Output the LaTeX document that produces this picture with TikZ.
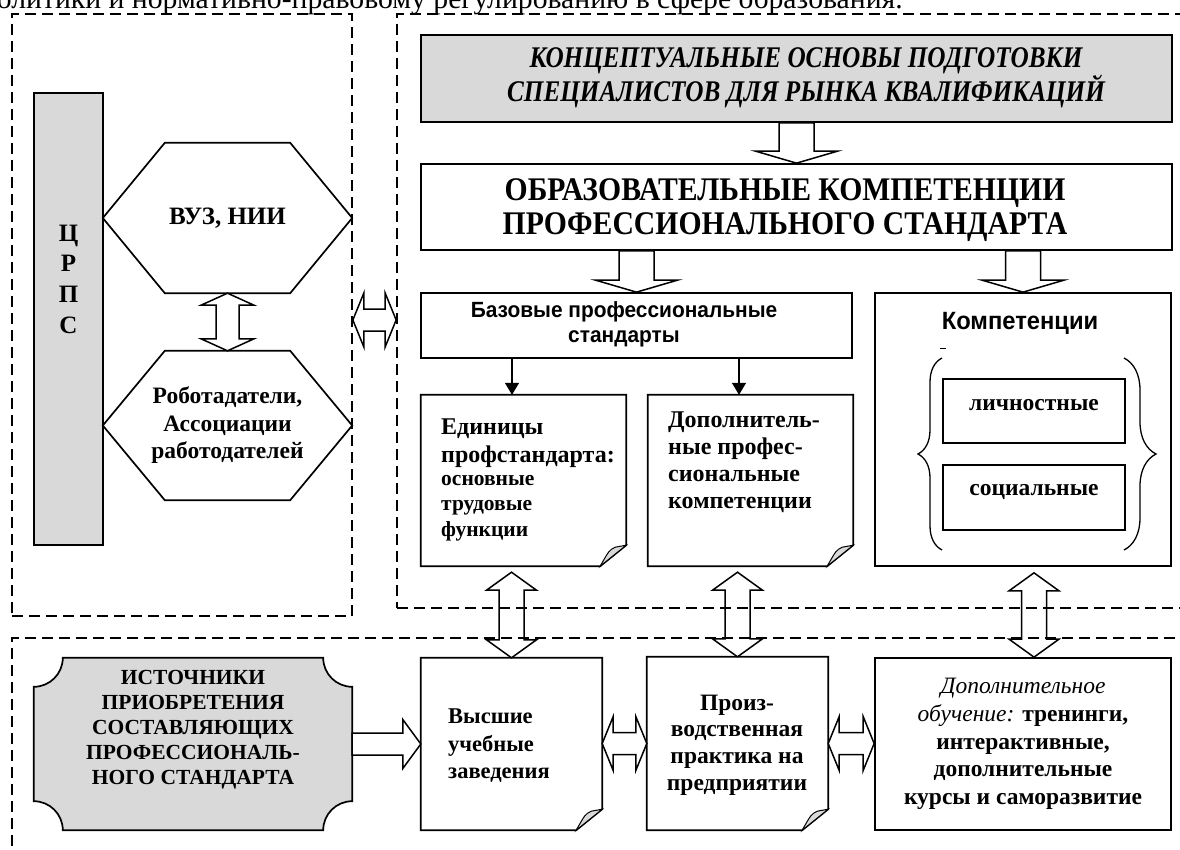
\documentclass[tikz,border=0pt]{standalone}
\usepackage{fontspec}
\setmainfont{Liberation Serif}
\newfontfamily\narrowsans[FakeStretch=0.95]{Liberation Sans}
\newfontfamily\condserif[FakeStretch=0.84]{Liberation Serif}
\newfontfamily\narrowserif[FakeStretch=0.9]{Liberation Serif}
\usetikzlibrary{positioning,calc,arrows.meta,decorations.pathreplacing}

\definecolor{panelgray}{RGB}{217,217,217}
\pgfdeclarelayer{front}
\pgfsetlayers{main,front}

\tikzset{
  panel/.style={draw, line width=1.7pt, dash pattern=on 11pt off 6pt, inner sep=0pt},
  plainbox/.style={draw, line width=1.7pt, inner sep=0pt, align=center},
  graybox/.style={plainbox, fill=panelgray},
  blank/.style={inner sep=0pt, align=center},
  docline/.style={line width=1.7pt, line join=miter},
  fatshaft/.initial=10, fathead/.initial=20, fattip/.initial=10,
  fat/.style={draw, fill=white, line width=1.5pt, line join=miter},
  fatdown/.style={fatshaft=17.5, fathead=41, fattip=12},
  fatright/.style={fatshaft=11, fathead=24.5, fattip=18},
  fatvert/.style={fatshaft=11.5, fathead=26.5, fattip=12},
  fatside/.style={fatshaft=11, fathead=27, fattip=11},
  fatcross/.style={fatshaft=12.5, fathead=25, fattip=18},
  thinarr/.style={line width=1.6pt, -{Triangle[length=12pt,width=14pt]}},
  curly/.style={decorate, decoration={brace, amplitude=#1}, line width=1.3pt},
}

% hollow block arrows laid between two points
\newcommand\fatprep[3]{%
  \path #2; \pgfgetlastxy{\fatAx}{\fatAy}%
  \path #3; \pgfgetlastxy{\fatBx}{\fatBy}%
  \tikzset{#1}%
  \pgfmathsetmacro\fatL{veclen(\fatBx-\fatAx,\fatBy-\fatAy)}%
  \pgfmathsetmacro\fatR{atan2(\fatBy-\fatAy,\fatBx-\fatAx)}%
  \pgfmathsetmacro\fatS{\pgfkeysvalueof{/tikz/fatshaft}}%
  \pgfmathsetmacro\fatH{\pgfkeysvalueof{/tikz/fathead}}%
  \pgfmathsetmacro\fatT{\pgfkeysvalueof{/tikz/fattip}}%
  \pgfmathsetmacro\fatM{\fatL-\fatT}}
\newcommand\fatlink[3]{\fatprep{#1}{#2}{#3}%
  \draw[fat, shift={(\fatAx,\fatAy)}, rotate=\fatR] (0pt,\fatS pt) -- (\fatM pt,\fatS pt) -- (\fatM pt,\fatH pt)
    -- (\fatL pt,0pt) -- (\fatM pt,-\fatH pt) -- (\fatM pt,-\fatS pt) -- (0pt,-\fatS pt) -- cycle;}
\newcommand\fatboth[3]{\fatprep{#1}{#2}{#3}%
  \draw[fat, shift={(\fatAx,\fatAy)}, rotate=\fatR] (0pt,0pt) -- (\fatT pt,\fatH pt) -- (\fatT pt,\fatS pt)
    -- (\fatM pt,\fatS pt) -- (\fatM pt,\fatH pt) -- (\fatL pt,0pt) -- (\fatM pt,-\fatH pt) -- (\fatM pt,-\fatS pt)
    -- (\fatT pt,-\fatS pt) -- (\fatT pt,-\fatH pt) -- cycle;}

% hexagon round a node
\newcommand\hexframe[1]{%
  \draw[docline] (#1.west) -- ([xshift=62pt]#1.north west) -- ([xshift=-62pt]#1.north east)
    -- (#1.east) -- ([xshift=-62pt]#1.south east) -- ([xshift=62pt]#1.south west) -- cycle;}

% sheet with a curled corner
\newcommand\docframe[1]{%
  \draw[docline] (#1.north west) -- (#1.north east) -- ([yshift=21pt]#1.south east)
    -- ([xshift=-26pt]#1.south east) -- (#1.south west) -- cycle;
  \draw[line width=1pt, fill=panelgray] ([xshift=-26pt]#1.south east)
    .. controls ([xshift=-17pt,yshift=16pt]#1.south east) .. ([xshift=-11pt,yshift=19pt]#1.south east)
    -- ([yshift=21pt]#1.south east) -- cycle;}

% plaque with hollow corners
\newcommand\plaqueframe[1]{%
  \draw[docline, fill=panelgray]
    ([yshift=-29pt]#1.north west) .. controls ([xshift=16pt,yshift=-29pt]#1.north west) and ([xshift=29pt,yshift=-16pt]#1.north west) .. ([xshift=29pt]#1.north west)
    -- ([xshift=-29pt]#1.north east) .. controls ([xshift=-29pt,yshift=-16pt]#1.north east) and ([xshift=-16pt,yshift=-29pt]#1.north east) .. ([yshift=-29pt]#1.north east)
    -- ([yshift=29pt]#1.south east) .. controls ([xshift=-16pt,yshift=29pt]#1.south east) and ([xshift=-29pt,yshift=16pt]#1.south east) .. ([xshift=-29pt]#1.south east)
    -- ([xshift=29pt]#1.south west) .. controls ([xshift=29pt,yshift=16pt]#1.south west) and ([xshift=16pt,yshift=29pt]#1.south west) .. ([yshift=29pt]#1.south west)
    -- cycle;}

\begin{document}
\begin{tikzpicture}[x=1pt, y=-1pt]
  \useasboundingbox (0,0) rectangle (1180,850);

  % dashed panels
  \begin{pgfonlayer}{front}
    \node[panel, minimum width=340, minimum height=602] (leftp) at (182,315) {};
    \node[panel, minimum width=803, minimum height=594] (rightp) at (798.5,311) {};
    \node[panel, minimum width=1188, minimum height=232] (botp) at (606,754) {};
  \end{pgfonlayer}

  \node[anchor=base east, inner sep=0pt, font=\fontsize{29.7}{30}\selectfont] (caption) at (903,9)
    {олитики и нормативно-правовому регулированию в сфере образования.};

  % left panel
  \node[graybox, minimum width=69, minimum height=452] (crps) at (68.5,319) {};
  \node[blank, font=\bfseries\fontsize{25}{30.7}\selectfont] (crpstext) at (68.5,279) {Ц\\Р\\П\\С};

  \node[blank, minimum width=249, minimum height=150, font=\bfseries\fontsize{25}{27.5}\selectfont] (vuz) at (227.5,218) {ВУЗ, НИИ};
  \node[blank, minimum width=249, minimum height=149, font=\bfseries\fontsize{23.5}{27.5}\selectfont] (emp) at (227.5,425.5)
    {Роботадатели,\\Ассоциации\\работодателей};
  \hexframe{vuz}
  \hexframe{emp}
  \fatboth{fatvert}{(vuz.south)}{(emp.north)}

  \coordinate (mid) at (375,320);
  \fatboth{fatside}{(leftp.east |- mid)}{(rightp.west |- mid)}

  % upper right panel
  \node[graybox, minimum width=751, minimum height=87] (conc) at (796.5,78.5) {};
  \node[blank, font=\condserif\bfseries\itshape\fontsize{30}{30}\selectfont] (conctext) at (806,77.5)
    {КОНЦЕПТУАЛЬНЫЕ ОСНОВЫ ПОДГОТОВКИ\\СПЕЦИАЛИСТОВ ДЛЯ РЫНКА КВАЛИФИКАЦИЙ};
  \node[plainbox, minimum width=751, minimum height=86] (obr) at (796.5,207) {};
  \node[blank, font=\narrowserif\bfseries\fontsize{33}{34}\selectfont] (obrtext) at (785,210)
    {ОБРАЗОВАТЕЛЬНЫЕ КОМПЕТЕНЦИИ\\ПРОФЕССИОНАЛЬНОГО СТАНДАРТА};
  \node[plainbox, minimum width=431, minimum height=65] (base) at (636.5,325.5) {};
  \node[blank, font=\narrowsans\bfseries\fontsize{22}{25}\selectfont] (basetext) at (624,324.5)
    {Базовые профессиональные\\стандарты};
  \node[plainbox, minimum width=296, minimum height=273] (komp) at (1023,429.5) {};
  \node[blank, font=\narrowsans\bfseries\fontsize{25}{25}\selectfont] (komptitle) at (1020,323) {Компетенции};
  \draw[line width=1pt] (940,348) -- (946,348);

  \node[plainbox, minimum width=182, minimum height=64] (lich) at (1034,411) {};
  \node[blank, font=\bfseries\fontsize{23.5}{23}\selectfont] (lichtext) at (1034,405) {личностные};
  \node[plainbox, minimum width=182, minimum height=65] (soc) at (1034,497.5) {};
  \node[blank, font=\bfseries\fontsize{23.5}{23}\selectfont] (soctext) at (1034,492) {социальные};
  \draw[curly=24pt] (942,550) -- (942,358);
  \draw[curly=32pt] (1124,358) -- (1124,550);

  \node[blank, minimum width=205, minimum height=171] (edin) at (523.5,480.5) {};
  \docframe{edin}
  \node[anchor=north west, align=left, inner sep=0pt, font=\bfseries\fontsize{21.5}{25.5}\selectfont] (edintext) at (441,419)
    {{\fontsize{24}{28}\selectfont Единицы}\\[2pt]{\fontsize{24}{28}\selectfont профстандарта:}\\[-2.5pt]основные\\трудовые\\функции};
  \node[blank, minimum width=205, minimum height=171] (dopk) at (750.5,480.5) {};
  \docframe{dopk}
  \node[anchor=north west, align=left, inner sep=0pt, font=\bfseries\fontsize{24}{26.7}\selectfont] (dopktext) at (668,412)
    {Дополнитель-\\ные профес-\\сиональные\\компетенции};

  \fatlink{fatdown}{(conc.south)}{(obr.north)}
  \fatlink{fatdown}{(obr.south -| base.north)}{(base.north)}
  \fatlink{fatdown}{(obr.south -| komp.north)}{(komp.north)}

  \coordinate (t1) at ($(edin.north)+(-11.5,0)$);
  \coordinate (t2) at ($(dopk.north)+(-11.5,0)$);
  \draw[thinarr] (base.south -| t1) -- (t1);
  \draw[thinarr] (base.south -| t2) -- (t2);

  % lower panel
  \node[blank, minimum width=318, minimum height=172] (src) at (193,744) {};
  \plaqueframe{src}
  \node[blank, font=\bfseries\fontsize{21.5}{25}\selectfont] (srctext) at (193,730)
    {ИСТОЧНИКИ\\ПРИОБРЕТЕНИЯ\\СОСТАВЛЯЮЩИХ\\ПРОФЕССИОНАЛЬ-\\НОГО СТАНДАРТА};

  \node[blank, minimum width=181, minimum height=172] (high) at (511.5,744) {};
  \docframe{high}
  \node[anchor=north west, align=left, inner sep=0pt, font=\bfseries\fontsize{22.5}{27.5}\selectfont] (hightext) at (448,709)
    {Высшие\\учебные\\заведения};

  \node[blank, minimum width=181, minimum height=173] (prac) at (737.5,743.5) {};
  \docframe{prac}
  \node[blank, font=\bfseries\fontsize{23.5}{26.7}\selectfont] (practext) at (737,745)
    {Произ-\\водственная\\практика на\\предприятии};

  \node[plainbox, minimum width=296, minimum height=172, font=\bfseries\fontsize{23.5}{27.7}\selectfont] (extra) at (1023,744)
    {\textit{\mdseries Дополнительное}\\\textit{\mdseries обучение:} тренинги,\\интерактивные,\\дополнительные\\курсы и саморазвитие};

  \fatboth{fatcross}{($(edin.south -| high.north)+(0,6)$)}{(high.north)}
  \fatboth{fatcross}{($(dopk.south -| prac.north)+(0,6)$)}{(prac.north)}
  \fatboth{fatcross}{($(komp.south)+(11,6)$)}{($(extra.north)+(11,0)$)}

  \fatlink{fatright}{(src.east)}{(high.west)}
  \fatboth{fatside}{(high.east |- prac.west)}{(prac.west)}
  \fatboth{fatside}{(prac.east)}{(extra.west |- prac.east)}
\end{tikzpicture}
\end{document}
